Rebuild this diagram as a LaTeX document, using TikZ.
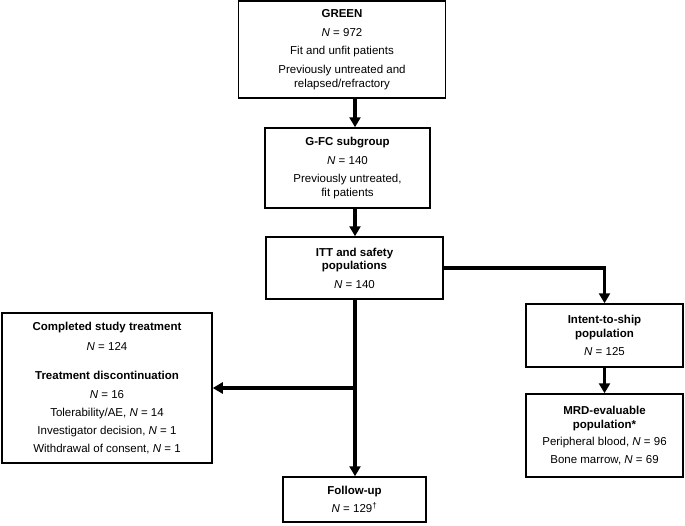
\documentclass[tikz,border=0pt]{standalone}
\usepackage{fontspec}
\setmainfont{Liberation Sans}
\usetikzlibrary{arrows.meta}

\newcommand{\Nv}{\textit{N}}

\begin{document}
\begin{tikzpicture}[x=1pt, y=-1pt,
                    every node/.style={draw,
                                  line width=1.5pt,
                                  align=center,
                                  inner sep=0pt,
                                  font=\fontsize{11.5}{13.5}\selectfont},
                    flow/.style={line width=3.5pt,
                                  -{Triangle[width=11pt,length=10pt]}}]
                      \useasboundingbox (0,0) rectangle (685,525);

                      \node[minimum width=207pt, minimum height=97pt] (green) at (342, 49.5)
                          {\textbf{GREEN}\\[5pt] \Nv{} = 972\\[5pt] Fit and unfit patients\\[5.5pt]
                           Previously untreated and\\ relapsed/refractory};
                      \node[minimum width=165pt, minimum height=80pt] (gfc) at (347.5, 168)
                          {\textbf{G-FC subgroup}\\[5pt] \Nv{} = 140\\[5pt] Previously untreated,\\ fit patients};
                      \node[minimum width=177pt, minimum height=62pt] (itt) at (354.5, 268)
                          {\textbf{ITT and safety}\\ \textbf{populations}\\[5pt] \Nv{} = 140};
                      \node[minimum width=210pt, minimum height=150pt] (done) at (107, 388)
                          {\textbf{Completed study treatment}\\[6pt] \Nv{} = 124\\[16pt]
                           \textbf{Treatment discontinuation}\\[5pt] \Nv{} = 16\\[4.5pt]
                           Tolerability/AE, \Nv{} = 14\\[4.5pt] Investigator decision, \Nv{} = 1\\[4.5pt]
                           Withdrawal of consent, \Nv{} = 1};
                      \node[minimum width=157pt, minimum height=63pt] (ship) at (604.5, 335.5)
                          {\textbf{Intent-to-ship}\\ \textbf{population}\\[5pt] \Nv{} = 125};
                      \node[minimum width=157pt, minimum height=83pt] (mrd) at (604.5, 435.5)
                          {\textbf{MRD-evaluable}\\ \textbf{population*}\\[4pt]
                           Peripheral blood, \Nv{} = 96\\[4pt] Bone marrow, \Nv{} = 69};
                      \node[minimum width=143pt, minimum height=45pt] (follow) at (354.5, 499.5)
                          {\textbf{Follow-up}\\[5pt] \Nv{} = 129\textsuperscript{\textdagger}};

                      \coordinate (split) at (355, 388);

                      \draw[flow] (green.south -| split) -- (gfc.north -| split);
                      \draw[flow] (gfc.south -| split) -- (itt.north -| split);
                      \draw[flow] (itt.south -| split) -- (follow.north -| split);
                      \draw[flow] (split) -- (done.east);
                      \draw[flow] (itt.east) -| (ship.north);
                      \draw[flow] (ship.south) -- (mrd.north);
                  \end{tikzpicture}
\end{document}
